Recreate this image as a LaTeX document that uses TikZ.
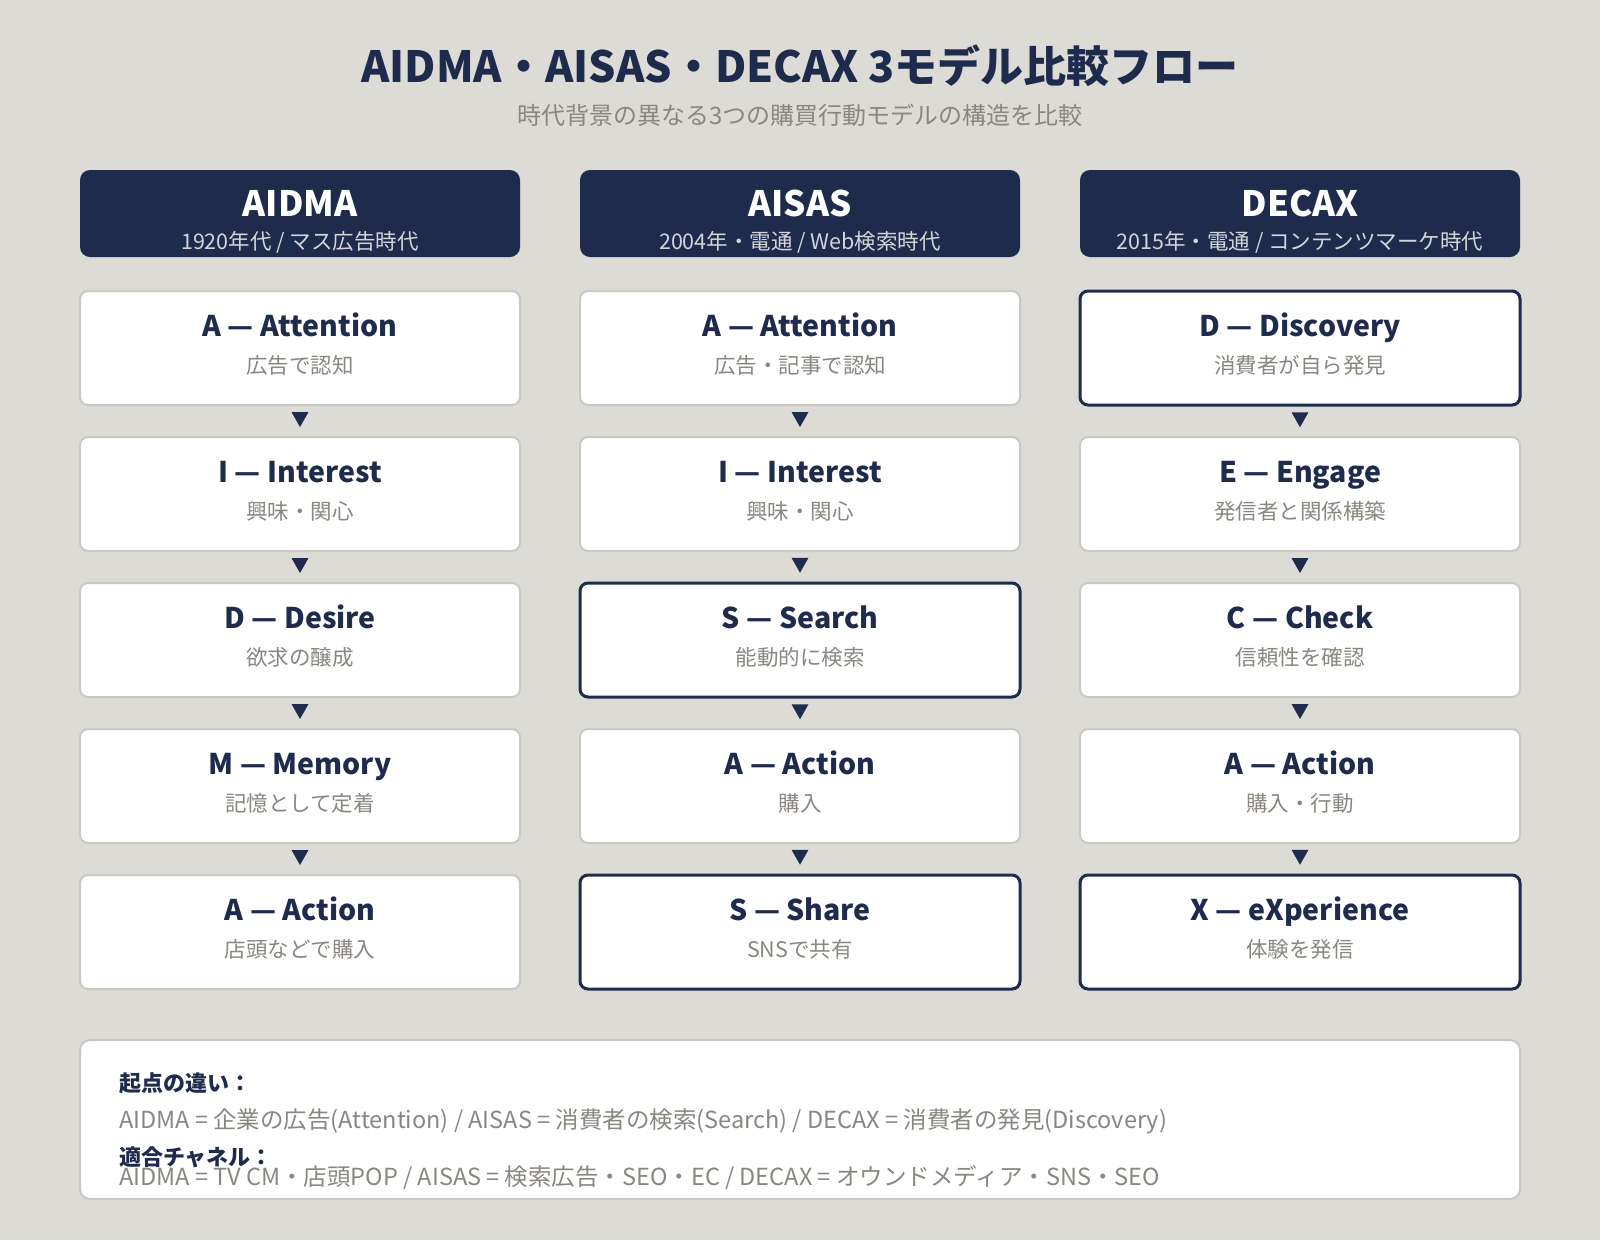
\documentclass[tikz,border=0pt]{standalone}
\usepackage{fontspec}
\setmainfont{Noto Sans CJK JP}
\definecolor{navy}{HTML}{1F2B4D}
\definecolor{bgcol}{HTML}{DCDBD6}
\definecolor{txtgray}{HTML}{8A8780}
\definecolor{edgegray}{HTML}{C9C8C2}
\definecolor{hdrgray}{HTML}{D4D5DA}
\newcommand{\fsz}[1]{\fontsize{#1}{#1}\selectfont}
\tikzset{
  hdrbox/.style={fill=navy, rounded corners=10pt, minimum width=440pt, minimum height=87pt},
  hdrttl/.style={font=\fsz{35}\bfseries, text=white, inner sep=0pt, text height=25.6pt, text depth=0pt, yshift=9.5pt},
  hdrsub/.style={font=\fsz{21.5}, text=hdrgray, inner sep=0pt, text height=16.3pt, text depth=0pt, yshift=-27.5pt},
  stepbox/.style={fill=white, draw=edgegray, line width=2pt, rounded corners=8pt, minimum width=440pt, minimum height=114pt},
  keybox/.style={stepbox, draw=navy, line width=3pt},
  ttl/.style={font=\fsz{28.5}\bfseries, text=navy, inner sep=0pt, text height=20.8pt, text depth=0pt, yshift=21.5pt},
  sub/.style={font=\fsz{21.5}, text=txtgray, inner sep=0pt, text height=16.3pt, text depth=0pt, yshift=-17pt},
  note/.style={anchor=west, inner sep=0pt, text depth=0pt}
}

\begin{document}
\begin{tikzpicture}[x=1pt, y=-1pt]
\fill[bgcol] (0,0) rectangle (1600,1240);
\useasboundingbox (0,0) rectangle (1600,1240);

\node[font=\fsz{43}\bfseries, text=navy, inner sep=0pt, text height=31.4pt, text depth=0pt] (title) at (800,67) {AIDMA・AISAS・DECAX 3モデル比較フロー};
\node[font=\fsz{24}, text=txtgray, inner sep=0pt, text height=18.2pt, text depth=0pt] (subtitle) at (800,115) {時代背景の異なる3つの購買行動モデルの構造を比較};

%% headers
\node[hdrbox, label={[hdrttl]center:AIDMA}, label={[hdrsub]center:1920年代 / マス広告時代}] (ha) at (300,213.5) {};
\node[hdrbox, label={[hdrttl]center:AISAS}, label={[hdrsub]center:2004年・電通 / Web検索時代}] (hb) at (800,213.5) {};
\node[hdrbox, label={[hdrttl]center:DECAX}, label={[hdrsub]center:2015年・電通 / コンテンツマーケ時代}] (hc) at (1300,213.5) {};

%% AIDMA
\node[stepbox, label={[ttl]center:A — Attention}, label={[sub]center:広告で認知}] (a1) at (300,348) {};
\node[stepbox, label={[ttl]center:I — Interest}, label={[sub]center:興味・関心}] (a2) at (300,494) {};
\node[stepbox, label={[ttl]center:D — Desire}, label={[sub]center:欲求の醸成}] (a3) at (300,640) {};
\node[stepbox, label={[ttl]center:M — Memory}, label={[sub]center:記憶として定着}] (a4) at (300,786) {};
\node[stepbox, label={[ttl]center:A — Action}, label={[sub]center:店頭などで購入}] (a5) at (300,932) {};

%% AISAS
\node[stepbox, label={[ttl]center:A — Attention}, label={[sub]center:広告・記事で認知}] (b1) at (800,348) {};
\node[stepbox, label={[ttl]center:I — Interest}, label={[sub]center:興味・関心}] (b2) at (800,494) {};
\node[keybox, label={[ttl]center:S — Search}, label={[sub]center:能動的に検索}] (b3) at (800,640) {};
\node[stepbox, label={[ttl]center:A — Action}, label={[sub]center:購入}] (b4) at (800,786) {};
\node[keybox, label={[ttl]center:S — Share}, label={[sub]center:SNSで共有}] (b5) at (800,932) {};

%% DECAX
\node[keybox, label={[ttl]center:D — Discovery}, label={[sub]center:消費者が自ら発見}] (c1) at (1300,348) {};
\node[stepbox, label={[ttl]center:E — Engage}, label={[sub]center:発信者と関係構築}] (c2) at (1300,494) {};
\node[stepbox, label={[ttl]center:C — Check}, label={[sub]center:信頼性を確認}] (c3) at (1300,640) {};
\node[stepbox, label={[ttl]center:A — Action}, label={[sub]center:購入・行動}] (c4) at (1300,786) {};
\node[keybox, label={[ttl]center:X — eXperience}, label={[sub]center:体験を発信}] (c5) at (1300,932) {};

\foreach \c in {a,b,c}
  \foreach \i/\j in {1/2,2/3,3/4,4/5} {
    \path (\c\i) -- coordinate[midway] (\c\i t) (\c\j);
    \fill[navy] (\c\i t) +(-8.5,-9) -- +(8.5,-9) -- +(0,6) -- cycle;
  }

%% summary
\node[stepbox, minimum width=1440pt, minimum height=159pt, rounded corners=10pt] (sum) at (800,1119.5) {};
\node[note, font=\fsz{22}\bfseries, text=navy, text height=16.7pt] (k1) at (119,1083) {起点の違い：};
\node[note, font=\fsz{23.5}, text=txtgray, text height=17.8pt] (v1) at (119,1120) {AIDMA = 企業の広告(Attention) / AISAS = 消費者の検索(Search) / DECAX = 消費者の発見(Discovery)};
\node[note, font=\fsz{22}\bfseries, text=navy, text height=16.7pt] (k2) at (119,1157) {適合チャネル：};
\node[note, font=\fsz{23.5}, text=txtgray, text height=17.8pt] (v2) at (119,1177) {AIDMA = TV CM・店頭POP / AISAS = 検索広告・SEO・EC / DECAX = オウンドメディア・SNS・SEO};
\end{tikzpicture}
\end{document}
